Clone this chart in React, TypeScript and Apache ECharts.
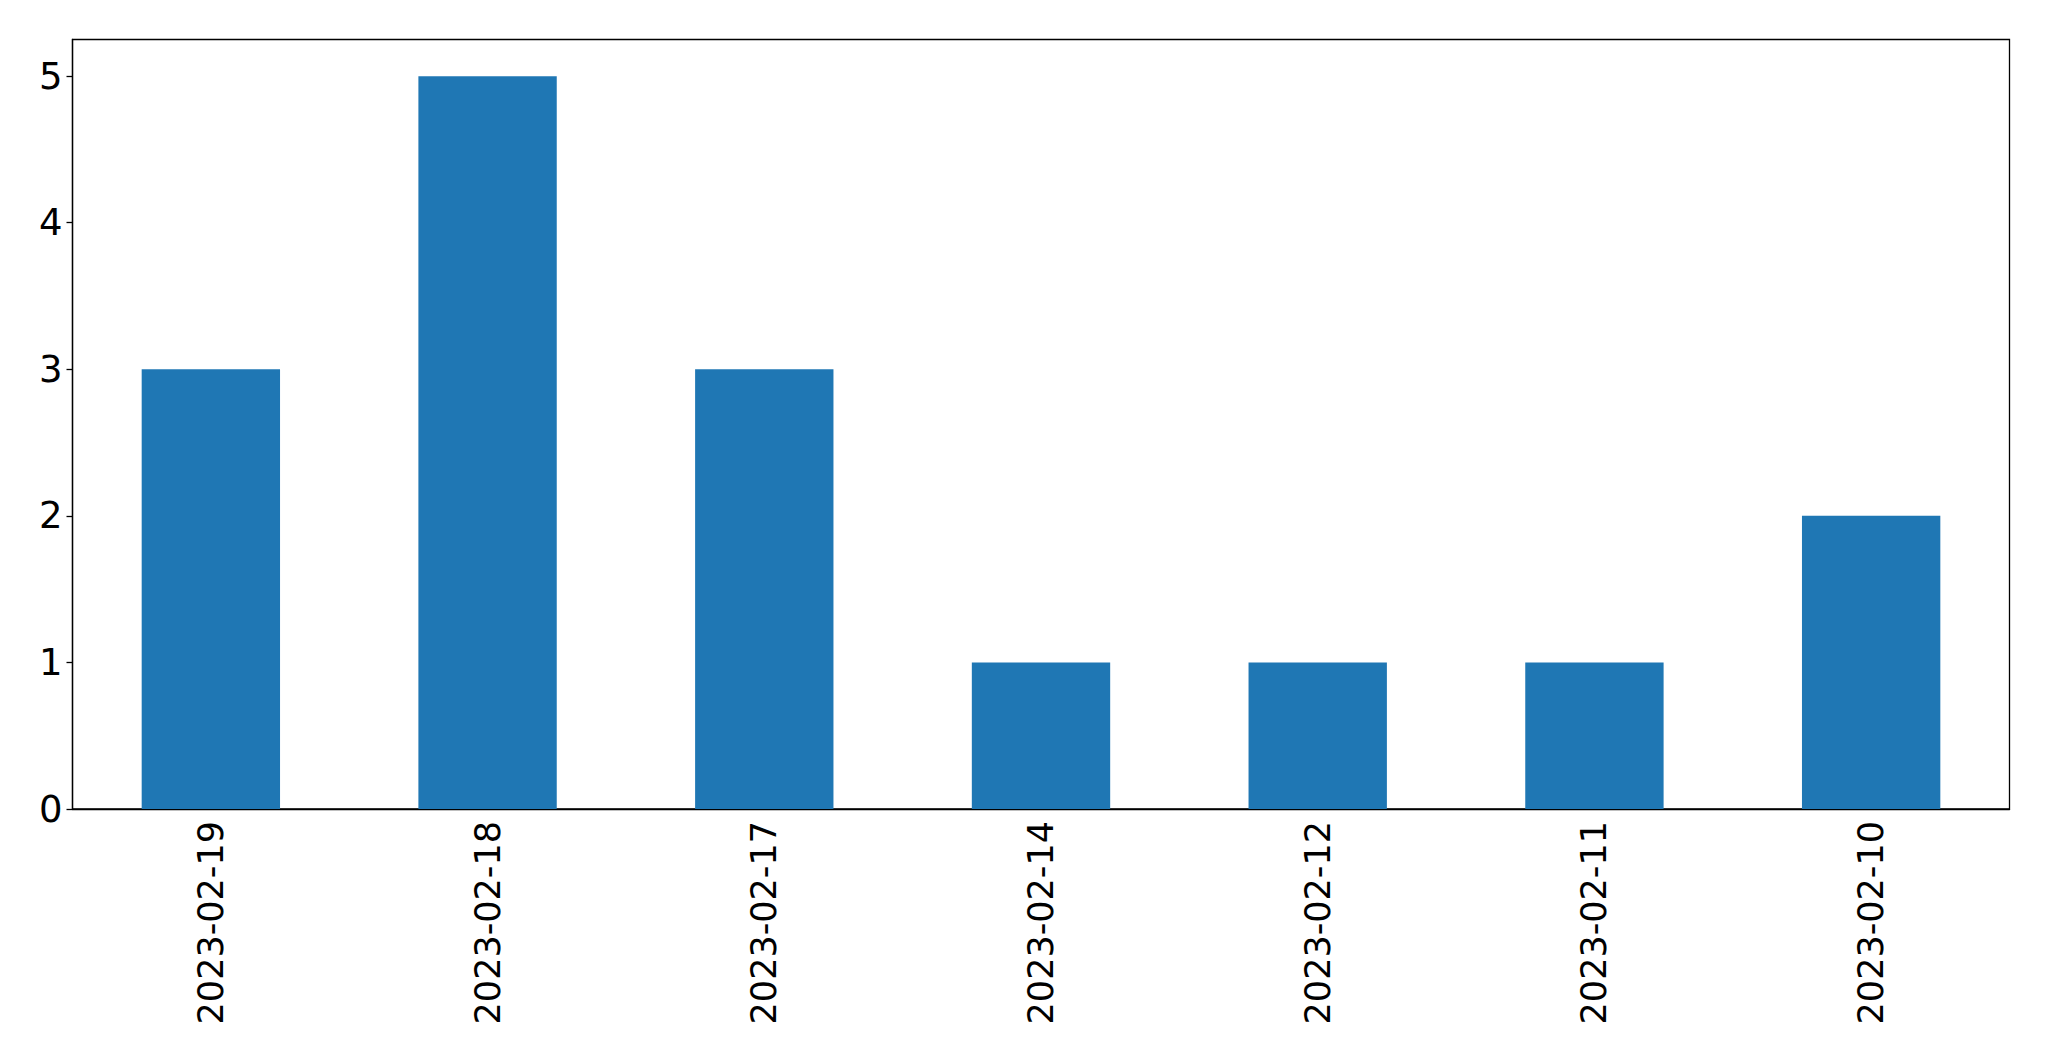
import React, { useEffect, useRef } from "react";
import * as echarts from "echarts";

const categories = ["2023-02-19", "2023-02-18", "2023-02-17", "2023-02-14", "2023-02-12", "2023-02-11", "2023-02-10"];
const values = [3, 5, 3, 1, 1, 1, 2];
const yTicks = [0, 1, 2, 3, 4, 5];

export default function App() {
  const ref = useRef<HTMLDivElement>(null);
  useEffect(() => {
    if (!ref.current) return;
    const chart = echarts.init(ref.current, null, { renderer: "svg" });
    chart.setOption({
      animation: false,
      backgroundColor: "#ffffff",
      textStyle: { fontFamily: "DejaVu Sans" },
      grid: {
        left: 72.5,
        top: 39.5,
        width: 1937,
        height: 769.5,
        show: true,
        borderColor: "#000000",
        borderWidth: 1.3,
        containLabel: false,
      },
      xAxis: {
        type: "category",
        data: categories,
        axisLine: { lineStyle: { color: "#000000", width: 1.3 } },
        axisTick: { alignWithLabel: true, length: 6, lineStyle: { color: "#000000", width: 1.3 } },
        axisLabel: { rotate: 90, fontSize: 35, color: "#000000", margin: 12, fontFamily: "DejaVu Sans" },
        splitLine: { show: false },
      },
      yAxis: {
        type: "value",
        min: 0,
        max: 5.25,
        interval: 1,
        axisLine: { show: true, lineStyle: { color: "#000000", width: 1.3 } },
        axisTick: { show: true, length: 6, lineStyle: { color: "#000000", width: 1.3 } },
        axisLabel: {
          fontSize: 37,
          color: "#000000",
          margin: 10,
          showMaxLabel: false,
          fontFamily: "DejaVu Sans",
          formatter: (v: number) => (yTicks.includes(v) ? String(v) : ""),
        },
        splitLine: { show: false },
      },
      series: [
        {
          type: "bar",
          data: values,
          barWidth: "50%",
          itemStyle: { color: "#1f77b4" },
        },
      ],
    });
    return () => chart.dispose();
  }, []);
  return <div ref={ref} style={{ position: "fixed", left: 0, top: 0, width: 2049, height: 1061 }} />;
}
